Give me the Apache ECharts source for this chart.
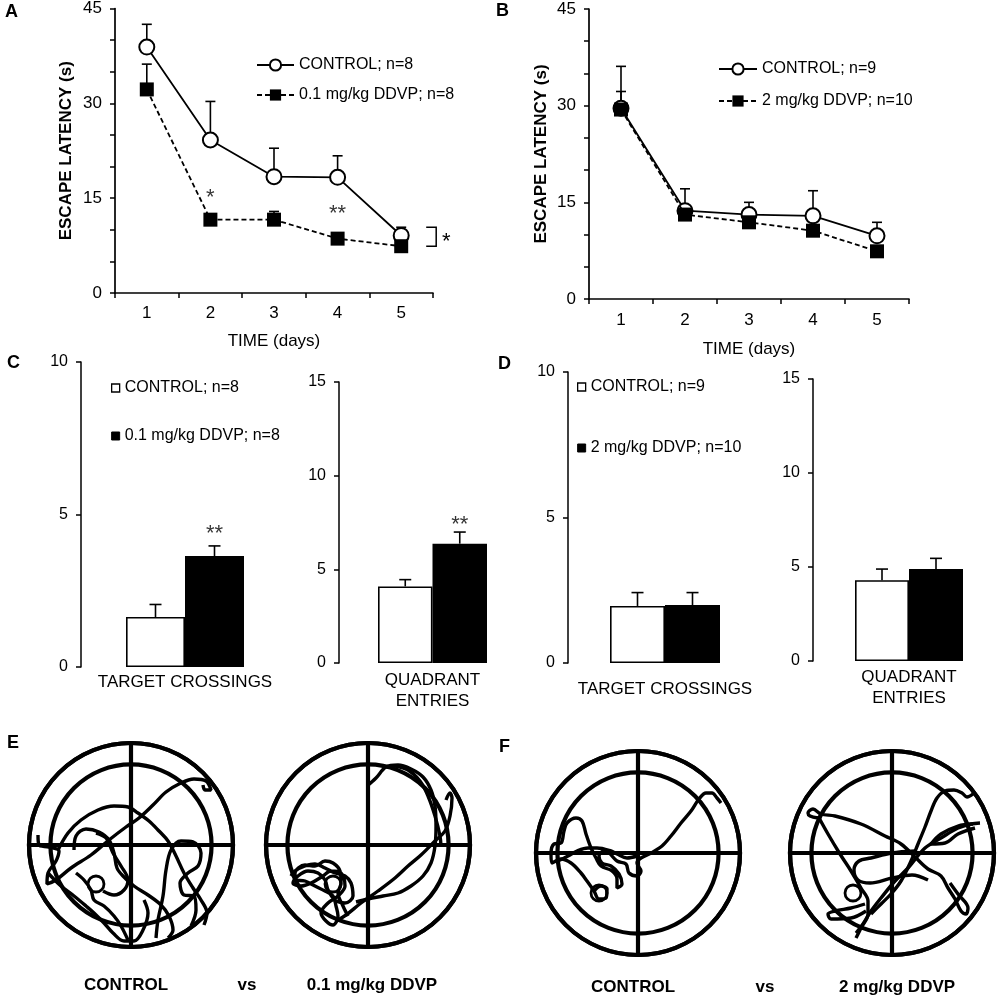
<!DOCTYPE html>
<html><head><meta charset="utf-8">
<script src="https://cdn.jsdelivr.net/npm/echarts@6/dist/echarts.min.js"></script>
<style>html,body{margin:0;padding:0;background:#fff}#c{width:1000px;height:1000px}</style>
</head><body><div id="c"></div>
<script>
const FONT = 'Liberation Sans';
const days = ['1', '2', '3', '4', '5'];

// ---- Panel A ----
const aControlName = 'CONTROL; n=8';
const aDdvpName = '0.1 mg/kg DDVP; n=8';
const aControl = [38.9, 24.2, 18.4, 18.3, 9.1];
const aControlErr = [3.6, 6.1, 4.5, 3.4, 1.3];
const aDdvp = [32.2, 11.6, 11.6, 8.6, 7.4];
const aDdvpErr = [4.0, 0.5, 1.3, 0.5, 0.5];
const aStars = [[1, 15.9, '*'], [3, 13.3, '**']];
const aBracket = [[4, 10.4, 7.4]];
const aBracketLabel = ['*'];

// ---- Panel B ----
const bControlName = 'CONTROL; n=9';
const bDdvpName = '2 mg/kg DDVP; n=10';
const bControl = [29.6, 13.7, 13.1, 12.9, 9.8];
const bControlErr = [6.5, 3.4, 1.9, 3.9, 2.1];
const bDdvp = [29.4, 13.1, 11.9, 10.6, 7.4];
const bDdvpErr = [2.8, 0.5, 0.5, 0.5, 0.5];

// ---- Panels C / D (bars: [control, ddvp]) ----
const barGroups = ['CONTROL', 'DDVP'];
const cTarget = [1.64, 3.64];
const cTargetErr = [0.41, 0.33];
const cQuad = [4.09, 6.37];
const cQuadErr = [0.36, 0.62];
const cTargetStars = [[1, 4.54, '**']];
const cQuadStars = [[1, 7.65, '**']];
const dTarget = [1.96, 1.99];
const dTargetErr = [0.46, 0.43];
const dQuad = [4.30, 4.90];
const dQuadErr = [0.59, 0.56];

// ---- Panels E / F: swim paths (offset from pool centre, pool radius ~101) ----
const innerRingRatio = 0.79;
const poolEControl = [
  [[-93,10],[-92,0],[-82,-2],[-72,-6],[-75,-16],[-83,-28],[-84,-39],[-75,-35],[-60,-23],[-40,-10],[-22,5],[-5,18],[8,27],[22,40],[35,53],[48,61],[63,66],[75,64],[80,55],[74,55],[72,60]],
  [[-73,-5],[-63,12],[-50,25],[-33,35],[-17,39],[-3,38],[7,32],[18,24],[28,14],[37,4],[45,-11],[53,-28],[62,-43],[70,-55],[76,-68],[73,-80]],
  [[-57,-5],[-55,9],[-45,16],[-32,13],[-22,5],[-17,-8],[-14,-23],[-8,-31],[3,-41],[17,-50],[30,-60],[38,-71],[42,-85],[37,-93]],
  [[25,-93],[27,-75],[32,-51],[35,-25],[40,-5],[50,4],[62,3],[70,-8],[67,-21],[57,-28],[49,-38],[53,-50],[63,-51],[65,-65],[60,-81]],
  [[-83,-28],[-70,-41],[-57,-51],[-45,-61],[-37,-68],[-27,-78],[-18,-88],[-7,-96],[3,-96],[12,-85],[17,-68],[13,-55]],
  [[-55,-28],[-47,-35],[-40,-45],[-37,-55],[-27,-61],[-17,-71],[-10,-81],[-3,-95]],
  [[-35,12],[-25,7],[-18,-8],[-10,-21],[-3,-35],[-7,-45],[-17,-50],[-28,-46]]
];
const poolEDdvp = [
  [[-1,59],[8,67],[18,78],[30,80],[43,76],[55,68],[63,55],[67,39],[68,19],[67,-1],[63,-18],[55,-31],[43,-41],[30,-48],[15,-51],[0,-54],[-12,-57]],
  [[78,45],[82,52],[84,47],[82,29],[77,14],[67,4],[53,-10],[40,-21],[27,-33],[10,-46],[-7,-58],[-22,-70],[-32,-76]],
  [[27,79],[40,75],[52,64],[60,49],[67,29],[72,9],[73,-1]],
  [[-77,-31],[-73,-26],[-63,-21],[-53,-19],[-43,-23],[-33,-28],[-23,-31],[-17,-38],[-15,-51],[-23,-58],[-33,-55],[-40,-45],[-43,-35],[-50,-28],[-60,-26],[-70,-31],[-75,-38],[-67,-41],[-57,-38],[-45,-31],[-37,-26],[-27,-28],[-23,-41],[-30,-51],[-40,-58],[-47,-68],[-42,-76],[-35,-80],[-30,-71],[-32,-61],[-35,-51],[-43,-46],[-53,-41],[-63,-36],[-72,-35],[-73,-28],[-63,-20],[-53,-21],[-43,-16],[-35,-18],[-28,-26],[-27,-38],[-30,-48],[-25,-61],[-20,-71]]
];
const poolFControl = [
  [[83,50],[79,55],[74,60],[68,60],[61,54],[53,42],[43,30],[33,17],[24,7],[13,0],[3,-5],[-1,-10],[3,-18],[-1,-23],[-9,-20],[-12,-11],[-21,-8],[-29,0],[-34,2],[-39,-3],[-36,-10],[-27,-13],[-19,-21],[-16,-31],[-21,-35],[-21,-26],[-26,-18],[-37,-13],[-42,-5],[-47,5],[-52,19],[-56,32],[-62,35],[-71,30],[-74,22],[-77,10],[-84,9],[-87,-1],[-86,-10],[-77,-6],[-67,-10],[-57,-20],[-51,-28],[-44,-38],[-39,-46],[-32,-45],[-31,-36],[-37,-33],[-44,-38]],
  [[-80,-8],[-70,-3],[-61,2],[-50,5],[-41,5],[-27,2],[-21,-1],[-11,-5],[-1,-3]]
];
const poolFDdvp = [
  [[-74,35],[-82,37],[-84,40],[-79,44],[-71,39],[-57,37],[-31,29],[-7,17],[9,9],[24,-5],[36,-16],[49,-23],[56,-35],[63,-46],[69,-58],[74,-61],[76,-55],[66,-41],[58,-30]],
  [[-74,37],[-64,19],[-52,-1],[-41,-18],[-31,-35],[-24,-48],[-24,-61],[-31,-75],[-36,-85]],
  [[88,30],[79,29],[66,25],[49,15],[33,5],[16,-15],[3,-28],[-11,-45],[-21,-58],[-29,-71],[-36,-80]],
  [[83,25],[66,19],[53,10],[39,9],[49,19],[66,27],[81,29]],
  [[81,59],[75,56],[70,60],[62,63],[53,62],[45,55],[39,42],[33,26],[26,9],[19,-8],[9,-28],[-1,-41],[-11,-51],[-21,-61]],
  [[-27,-51],[-41,-55],[-57,-58],[-64,-61],[-61,-66],[-41,-65],[-26,-58]],
  [[23,2],[0,0],[-21,-5],[-33,-8],[-38,-17],[-34,-27],[-22,-30],[0,-25],[20,-22],[36,-27]]
];
const platforms = [[-35, -39], [-35, -39], [-39, -40], [-39, -40]];
const poolCaptions = ['CONTROL', '0.1 mg/kg DDVP', 'CONTROL', '2 mg/kg DDVP'];

// ---------------- layout / style ----------------
const BLACK = '#000';
const pools = [
  {cx: 131, cy: 845, paths: poolEControl, pad: [0, 10, 0, 0], gap: 30},
  {cx: 368, cy: 845, paths: poolEDdvp, pad: [0, 0, 0, 8], gap: 30},
  {cx: 638, cy: 853, paths: poolFControl, pad: [0, 10, 0, 0], gap: 24},
  {cx: 892, cy: 853, paths: poolFDdvp, pad: [0, 0, 0, 10], gap: 24}
];
const R = 102;

const grids = [
  {left: 115, top: 8, width: 318, height: 285},   // A
  {left: 589, top: 9, width: 320, height: 290},   // B
  {left: 126, top: 362, width: 118, height: 305}, // C1
  {left: 378, top: 382, width: 109, height: 281}, // C2
  {left: 610, top: 372, width: 110, height: 291}, // D1
  {left: 855, top: 379, width: 108, height: 282}  // D2
];
pools.forEach(p => grids.push({left: p.cx - R, top: p.cy - R, width: 2 * R, height: 2 * R}));

const axisLine = {show: true, lineStyle: {color: BLACK, width: 1.7}};
const axisTick = {show: true, length: 5, lineStyle: {color: BLACK, width: 1.5}};

function lineXAxis(gi, gap, margin) {
  return {gridIndex: gi, type: 'category', data: days, boundaryGap: true,
    axisLine, axisTick: Object.assign({alignWithLabel: false}, axisTick),
    axisLabel: {fontFamily: FONT, fontSize: 17, color: BLACK, margin},
    name: 'TIME (days)', nameLocation: 'middle', nameGap: gap,
    nameTextStyle: {fontFamily: FONT, fontSize: 17, color: BLACK},
    splitLine: {show: false}};
}
function lineYAxis(gi, gap) {
  return {gridIndex: gi, type: 'value', min: 0, max: 45, interval: 5,
    axisLine, axisTick,
    axisLabel: {fontFamily: FONT, fontSize: 17, color: BLACK, margin: 13,
      formatter: v => (v % 15 === 0 ? String(v) : '')},
    name: 'ESCAPE LATENCY (s)', nameLocation: 'middle', nameRotate: 90, nameGap: gap,
    nameTextStyle: {fontFamily: FONT, fontSize: 17, fontWeight: 'bold', color: BLACK},
    splitLine: {show: false}};
}
function barXAxis(gi, name, gap) {
  return {gridIndex: gi, type: 'category', data: barGroups,
    axisLine: {show: false}, axisTick: {show: false}, axisLabel: {show: false},
    name, nameLocation: 'middle', nameGap: gap,
    nameTextStyle: {fontFamily: FONT, fontSize: 17, color: BLACK, lineHeight: 21, verticalAlign: 'top'},
    splitLine: {show: false}};
}
function barYAxis(gi, max, offset) {
  return {gridIndex: gi, type: 'value', min: 0, max, interval: 5, offset,
    axisLine: {show: true, lineStyle: {color: BLACK, width: 1.5}}, axisTick,
    axisLabel: {fontFamily: FONT, fontSize: 16, color: BLACK, margin: 13},
    splitLine: {show: false}};
}

const xAxis = [
  lineXAxis(0, 40, 12),
  lineXAxis(1, 42, 13),
  barXAxis(2, 'TARGET CROSSINGS', 5),
  barXAxis(3, 'QUADRANT\nENTRIES', 7),
  barXAxis(4, 'TARGET CROSSINGS', 16),
  barXAxis(5, 'QUADRANT\nENTRIES', 6)
];
const yAxis = [
  lineYAxis(0, 40),
  lineYAxis(1, 39),
  barYAxis(2, 10, 45),
  barYAxis(3, 15, 39),
  barYAxis(4, 10, 42),
  barYAxis(5, 15, 42)
];
pools.forEach((p, i) => {
  const gi = 6 + i;
  xAxis.push({gridIndex: gi, type: 'value', min: -R, max: R,
    axisLine: {show: false}, axisTick: {show: false}, axisLabel: {show: false}, splitLine: {show: false},
    name: poolCaptions[i], nameLocation: 'middle', nameGap: p.gap,
    nameTextStyle: {fontFamily: FONT, fontSize: 17, fontWeight: 'bold', color: BLACK, padding: p.pad}});
  yAxis.push({gridIndex: gi, type: 'value', min: -R, max: R,
    axisLine: {show: false}, axisTick: {show: false}, axisLabel: {show: false}, splitLine: {show: false}});
});

function errorBarRenderer(capHalf) {
  return function (params, api) {
    const x = api.value(0), y = api.value(1), e = api.value(2);
    const p0 = api.coord([x, y]);
    const p1 = api.coord([x, y + e]);
    const style = {stroke: BLACK, lineWidth: 1.6};
    return {type: 'group', children: [
      {type: 'line', shape: {x1: p0[0], y1: p0[1], x2: p1[0], y2: p1[1]}, style},
      {type: 'line', shape: {x1: p1[0] - capHalf, y1: p1[1], x2: p1[0] + capHalf, y2: p1[1]}, style}
    ]};
  };
}
function errSeries(gi, vals, errs, capHalf) {
  return {type: 'custom', xAxisIndex: gi, yAxisIndex: gi, z: 1, silent: true,
    renderItem: errorBarRenderer(capHalf),
    data: vals.map((v, i) => [i, v, errs[i]])};
}
function starSeries(gi, data, size) {
  return {type: 'scatter', xAxisIndex: gi, yAxisIndex: gi, symbolSize: 1, silent: true, z: 5,
    itemStyle: {color: 'rgba(0,0,0,0)'},
    label: {show: true, position: 'inside', formatter: p => p.data[2], fontFamily: FONT,
      fontSize: size, color: BLACK, offset: [0, 5]},
    data};
}
function controlLine(gi, name, data) {
  return {type: 'line', name, xAxisIndex: gi, yAxisIndex: gi, data, z: 3,
    symbol: 'emptyCircle', symbolSize: 15, showAllSymbol: true,
    lineStyle: {color: BLACK, width: 1.8},
    itemStyle: {color: BLACK, borderColor: BLACK, borderWidth: 1.7}};
}
function ddvpLine(gi, name, data) {
  return {type: 'line', name, xAxisIndex: gi, yAxisIndex: gi, data, z: 4,
    symbol: 'rect', symbolSize: 14,
    lineStyle: {color: BLACK, width: 1.8, type: [5, 3]},
    itemStyle: {color: BLACK}};
}
function barPair(gi, names, vals, errs, stackId) {
  return [
    {type: 'bar', name: names[0], xAxisIndex: gi, yAxisIndex: gi, stack: stackId, barWidth: '100%',
      data: [vals[0], '-'], itemStyle: {color: '#fff', borderColor: BLACK, borderWidth: 1.6}},
    {type: 'bar', name: names[1], xAxisIndex: gi, yAxisIndex: gi, stack: stackId, barWidth: '100%',
      data: ['-', vals[1]], itemStyle: {color: BLACK, borderColor: BLACK, borderWidth: 1.6}},
    errSeries(gi, vals, errs, 6)
  ];
}

const series = [
  errSeries(0, aControl, aControlErr, 5),
  errSeries(0, aDdvp, aDdvpErr, 5),
  controlLine(0, aControlName, aControl),
  ddvpLine(0, aDdvpName, aDdvp),
  starSeries(0, aStars, 22),
  {type: 'custom', xAxisIndex: 0, yAxisIndex: 0, silent: true, z: 5,
    data: aBracket,
    renderItem: function (params, api) {
      const x = api.value(0), top = api.value(1), bot = api.value(2);
      const pT = api.coord([x, top]), pB = api.coord([x, bot]);
      const x0 = pT[0] + 25, x1 = x0 + 10;
      return {type: 'group', children: [
        {type: 'polyline', shape: {points: [[x0, pT[1]], [x1, pT[1]], [x1, pB[1]], [x0, pB[1]]]},
          style: {stroke: BLACK, fill: null, lineWidth: 1.5}},
        {type: 'text', style: {text: aBracketLabel[params.dataIndex], x: x1 + 10, y: (pT[1] + pB[1]) / 2 + 5,
          align: 'center', verticalAlign: 'middle', textAlign: 'center', textVerticalAlign: 'middle',
          fontFamily: FONT, fontSize: 22, fill: BLACK}}
      ]};
    }},
  errSeries(1, bControl, bControlErr, 5),
  errSeries(1, bDdvp, bDdvpErr, 5),
  controlLine(1, bControlName, bControl),
  ddvpLine(1, bDdvpName, bDdvp),
  ...barPair(2, [aControlName, aDdvpName], cTarget, cTargetErr, 'c1'),
  starSeries(2, cTargetStars, 22),
  ...barPair(3, [aControlName, aDdvpName], cQuad, cQuadErr, 'c2'),
  starSeries(3, cQuadStars, 22),
  ...barPair(4, [bControlName, bDdvpName], dTarget, dTargetErr, 'd1'),
  ...barPair(5, [bControlName, bDdvpName], dQuad, dQuadErr, 'd2')
];
pools.forEach((p, i) => {
  const gi = 6 + i;
  p.paths.forEach(stroke => {
    series.push({type: 'line', xAxisIndex: gi, yAxisIndex: gi, data: stroke, smooth: 0.35,
      symbol: 'none', silent: true, z: 3, lineStyle: {color: BLACK, width: 3.4, opacity: 1}});
  });
  series.push({type: 'scatter', xAxisIndex: gi, yAxisIndex: gi, data: [platforms[i]], silent: true, z: 4,
    symbol: 'circle', symbolSize: 16,
    itemStyle: {color: 'rgba(0,0,0,0)', borderColor: BLACK, borderWidth: 2.8, opacity: 1}});
});

const polar = pools.map(p => ({center: [p.cx, p.cy], radius: R}));
const radiusAxis = pools.map((p, i) => ({polarIndex: i, type: 'value', min: 0, max: 1, interval: innerRingRatio,
  axisLine: {show: false}, axisTick: {show: false}, axisLabel: {show: false},
  splitLine: {show: true, lineStyle: {color: BLACK, width: 4.2}}}));
const angleAxis = pools.map((p, i) => ({polarIndex: i, type: 'value', min: 0, max: 360, interval: 90, startAngle: 90,
  axisLine: {show: true, lineStyle: {color: BLACK, width: 4.2}}, axisTick: {show: false}, axisLabel: {show: false},
  splitLine: {show: true, lineStyle: {color: BLACK, width: 4.2}}}));

const legendText = {fontFamily: FONT, fontSize: 16, color: BLACK, lineHeight: 16};
const legend = [
  {data: [aControlName, aDdvpName], orient: 'vertical', left: 256, top: 57, padding: 0,
    itemWidth: 37, itemHeight: 14, itemGap: 14, selectedMode: false, textStyle: legendText},
  {data: [bControlName, bDdvpName], orient: 'vertical', left: 718, top: 61, padding: 0,
    itemWidth: 38, itemHeight: 14, itemGap: 16, selectedMode: false, textStyle: legendText},
  {data: [
      {name: aControlName, icon: 'rect', itemStyle: {color: '#fff', borderColor: BLACK, borderWidth: 1.3}},
      {name: aDdvpName, icon: 'rect', itemStyle: {color: BLACK, borderColor: BLACK, borderWidth: 1}}],
    orient: 'vertical', left: 111, top: 380, padding: 0,
    itemWidth: 8, itemHeight: 8, itemGap: 32, selectedMode: false, textStyle: legendText},
  {data: [
      {name: bControlName, icon: 'rect', itemStyle: {color: '#fff', borderColor: BLACK, borderWidth: 1.3}},
      {name: bDdvpName, icon: 'rect', itemStyle: {color: BLACK, borderColor: BLACK, borderWidth: 1}}],
    orient: 'vertical', left: 577, top: 379, padding: 0,
    itemWidth: 8, itemHeight: 8, itemGap: 45, selectedMode: false, textStyle: legendText}
];

function txt(text, x, y, size, align, vAlign) {
  return {type: 'text', x, y, silent: true,
    style: {text, fontFamily: FONT, fontSize: size, fontWeight: 'bold', fill: BLACK,
      align: align || 'left', textAlign: align || 'left',
      verticalAlign: vAlign || 'top', textVerticalAlign: vAlign || 'top'}};
}
const graphic = [
  txt('A', 5, 3, 18), txt('B', 496, 2, 18), txt('C', 7, 354, 18), txt('D', 498, 355, 18),
  txt('E', 7, 734, 18), txt('F', 499, 738, 18),
  txt('vs', 247, 985, 17, 'center', 'middle'),
  txt('vs', 765, 987, 17, 'center', 'middle')
];

const chart = echarts.init(document.getElementById('c'), null, {renderer: 'canvas'});
chart.setOption({
  animation: false,
  backgroundColor: '#fff',
  textStyle: {fontFamily: FONT},
  grid: grids,
  xAxis, yAxis, polar, radiusAxis, angleAxis,
  legend, graphic, series
});
</script>
</body></html>
